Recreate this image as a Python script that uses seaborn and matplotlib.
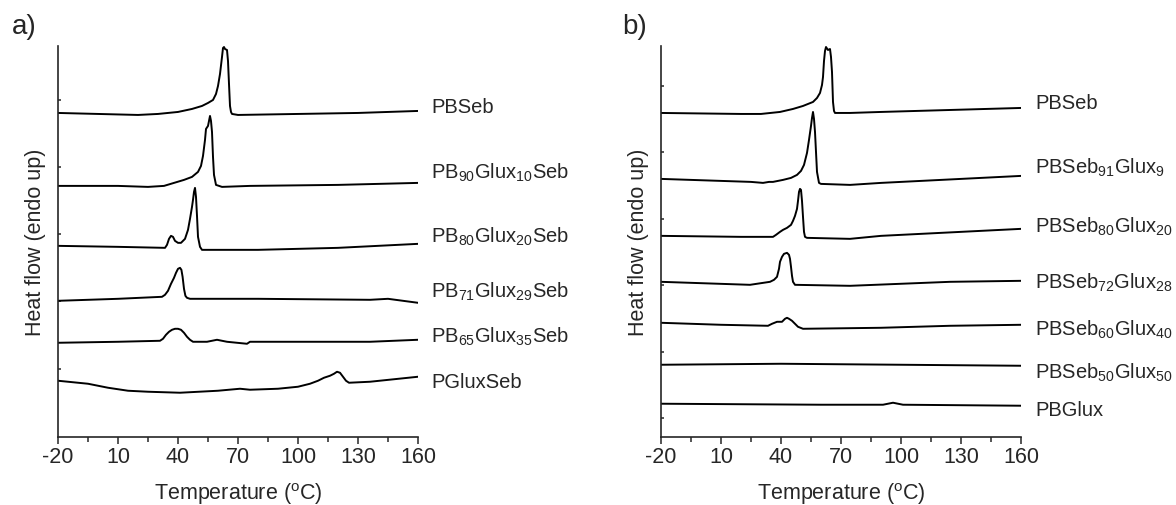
#!/usr/bin/env python3
"""
DSC heating scans of PBSeb copolyesters.
Panel a) PB(x)Glux(y)Seb series, panel b) PBSeb(x)Glux(y) series.
Heat flow values are arbitrary units (curves are stacked, endo up).
"""

import pandas as pd
import seaborn as sns
import matplotlib.pyplot as plt

# ---- panel a) data: temperature (C) and stacked heat flow (a.u.) ----
a_names = [
    'PBSeb',
    'PB$_{90}$Glux$_{10}$Seb',
    'PB$_{80}$Glux$_{20}$Seb',
    'PB$_{71}$Glux$_{29}$Seb',
    'PB$_{65}$Glux$_{35}$Seb',
    'PGluxSeb',
]
a1_t = [-20, 0, 20, 30, 40, 47, 52, 55, 57.5, 59, 60, 61, 62, 62.5, 63, 63.5, 64.5, 65, 65.5,
        66, 66.5, 67, 70, 100, 130, 160]
a1_hf = [324, 323, 322, 323, 325, 328, 331, 334, 337, 343, 351, 363, 380, 389, 390, 388, 387, 376, 353,
         331, 325, 323, 322, 323, 324, 326]
a2_t = [-20, 10, 25, 33, 38, 43, 47, 50, 51.5, 52.5, 53.5, 54, 55, 55.5, 56, 56.5, 57, 57.5, 58,
        59, 62, 76, 120, 160]
a2_hf = [251, 251, 250, 251, 254, 257, 260, 265, 271, 281, 297, 308, 311, 316, 321, 316, 305, 280, 262,
         252, 250, 251, 252, 254]
a3_t = [-20, 10, 33.5, 34.5, 35.5, 36.5, 37.5, 38.5, 40, 41.5, 43.5, 45, 46, 47, 47.5, 48, 48.5,
        49, 49.5, 50, 51, 52, 80, 120, 160]
a3_hf = [191, 190, 189, 192, 198, 201, 200, 196, 194, 194, 198, 207, 218, 230, 237, 245, 249,
         240, 221, 200, 190, 187, 187, 189, 193]
a4_t = [-20, 10, 32, 33.5, 35, 36.5, 38, 39, 40, 41, 41.7, 42.3, 43, 43.7, 44.5, 46, 80, 136,
        145, 160]
a4_hf = [136, 138, 140, 142, 146, 153, 159, 164, 168, 169, 167, 160, 148, 141, 139, 138, 138, 137,
         138, 134]
a5_t = [-20, 10, 31, 32.5, 34, 35.5, 37, 38.5, 40, 41.5, 43, 44.5, 46, 47.5, 54.5, 57, 59.5, 62,
        64.5, 74.5, 76, 136, 160]
a5_hf = [94, 95, 96, 98, 102, 105, 107, 108, 108, 107, 104, 100, 97, 95, 95, 96, 97, 96,
         95, 93, 95, 95, 97]
a6_t = [-20, -5, 5, 15, 25, 41, 60, 71, 76, 90, 100, 106, 110, 113, 116, 118, 119.5, 121, 122.5,
        124, 125.5, 136, 160]
a6_hf = [56, 53, 49, 46, 45, 44, 46, 48, 47, 48, 50, 53, 56, 59, 61, 63, 65, 64, 60,
         56, 54, 55, 60]
a_label_y = [325, 259, 195, 140, 95, 50]

# ---- panel b) data ----
b_names = [
    'PBSeb',
    'PBSeb$_{91}$Glux$_{9}$',
    'PBSeb$_{80}$Glux$_{20}$',
    'PBSeb$_{72}$Glux$_{28}$',
    'PBSeb$_{60}$Glux$_{40}$',
    'PBSeb$_{50}$Glux$_{50}$',
    'PBGlux',
]
b1_t = [-20, 20, 30, 39.5, 46, 51, 56, 58, 59.5, 60.5, 61, 61.5, 62, 62.5, 63.5, 64.5, 65,
        65.5, 66, 66.5, 67, 74.5, 90, 160]
b1_hf = [324, 323, 323, 325, 328, 331, 335, 339, 344, 352, 360, 376, 386, 390, 387, 388, 380,
         365, 335, 326, 324, 324, 325, 329]
b2_t = [-20, 10, 25, 31, 34, 36, 41, 45, 48, 50, 51.5, 53, 54, 55, 55.5, 56, 56.5, 57, 57.5, 58,
        59, 60, 74.5, 90, 160]
b2_hf = [258, 256, 255, 254, 255, 255, 257, 259, 262, 266, 272, 284, 297, 311, 319, 325, 318, 305,
         285, 265, 254, 253, 252, 254, 261]
b3_t = [-20, 20, 36, 37.5, 39.5, 41, 43, 45, 46, 47, 48, 48.5, 49, 49.5, 50, 50.5, 51, 51.5, 52,
        53, 74.5, 90, 160]
b3_hf = [201, 200, 200, 202, 205, 207, 209, 212, 216, 221, 228, 236, 245, 248, 247, 236, 220, 205,
         200, 199, 198, 201, 208]
b4_t = [-20, 24.5, 34.5, 36.5, 38, 39, 39.5, 40.5, 41.5, 43, 44, 44.5, 45, 45.5, 46, 47, 74.5,
        124.5, 160]
b4_hf = [155, 152, 155, 157, 160, 168, 175, 180, 183, 184, 182, 178, 170, 161, 155, 152, 151,
         155, 156]
b5_t = [-20, 10, 33.5, 35.5, 38, 40.5, 42, 43, 44, 45.5, 47, 48.5, 51, 90, 124.5, 160]
b5_hf = [114, 112, 111, 113, 115, 115, 118, 119, 118, 116, 113, 110, 108, 109, 111, 112]
b6_t = [-20, 40, 100, 160]
b6_hf = [72, 73, 72, 71]
b7_t = [-20, 60, 91, 96, 101, 160]
b7_hf = [33, 32, 32, 34, 32, 31]
b_label_y = [329, 264, 205, 149, 102, 59, 22]

a_yticks = [68, 136, 203, 270, 337]
b_yticks = [19, 85, 152, 218, 285, 351]
x_major = [-20, 10, 40, 70, 100, 130, 160]
x_minor = [-5, 25, 55, 85, 115, 145]


def make_frame(names, ts, hfs):
    """Stack the curves into one long frame for seaborn."""
    parts = []
    for name, t, hf in zip(names, ts, hfs):
        parts.append(pd.DataFrame({'sample': name, 'temperature': t, 'heat_flow': hf}))
    return pd.concat(parts, ignore_index=True)


def draw_panel(ax, df, names, label_y, yticks, label_x):
    sns.lineplot(data=df, x='temperature', y='heat_flow', units='sample',
                 estimator=None, sort=False, color='black', linewidth=1.4, ax=ax)
    for name, y in zip(names, label_y):
        ax.text(label_x, y, name, fontsize=14.5, va='baseline', ha='left', clip_on=False)

    ax.set_xlim(-20, 160)
    ax.set_ylim(0, 391)
    ax.set_xticks(x_major)
    ax.set_xticks(x_minor, minor=True)
    ax.set_xticklabels([str(v) for v in x_major])
    ax.set_yticks(yticks)
    ax.set_yticklabels([])
    ax.tick_params(axis='x', which='major', direction='out', length=5, width=1.1,
                   labelsize=15.5, pad=2)
    ax.tick_params(axis='x', which='minor', direction='out', length=3.5, width=1.1)
    ax.tick_params(axis='y', which='major', direction='in', length=2.5, width=1.1)
    for side in ['top', 'right']:
        ax.spines[side].set_visible(False)
    for side in ['left', 'bottom']:
        ax.spines[side].set_linewidth(1.2)
    ax.set_xlabel('Temperature ($^{o}$C)', fontsize=15.5, labelpad=9)
    ax.set_ylabel('Heat flow (endo up)', fontsize=15.5, labelpad=5)


sns.set_theme(style='ticks')
plt.rcParams['font.family'] = ['Liberation Sans', 'DejaVu Sans']
plt.rcParams['mathtext.fontset'] = 'custom'
plt.rcParams['mathtext.rm'] = 'Liberation Sans'
plt.rcParams['mathtext.it'] = 'Liberation Sans:italic'
plt.rcParams['mathtext.default'] = 'regular'

fig = plt.figure(figsize=(11.76, 5.06), dpi=100)
ax_a = fig.add_axes([58 / 1176, 68.3 / 506, 360 / 1176, 390.7 / 506])
ax_b = fig.add_axes([661 / 1176, 68.3 / 506, 360 / 1176, 390.7 / 506])

df_a = make_frame(a_names,
                  [a1_t, a2_t, a3_t, a4_t, a5_t, a6_t],
                  [a1_hf, a2_hf, a3_hf, a4_hf, a5_hf, a6_hf])
df_b = make_frame(b_names,
                  [b1_t, b2_t, b3_t, b4_t, b5_t, b6_t, b7_t],
                  [b1_hf, b2_hf, b3_hf, b4_hf, b5_hf, b6_hf, b7_hf])

draw_panel(ax_a, df_a, a_names, a_label_y, a_yticks, 166.5)
draw_panel(ax_b, df_b, b_names, b_label_y, b_yticks, 167)

fig.text(12 / 1176, 1 - 27 / 506, 'a)', fontsize=20, va='center', ha='left')
fig.text(622 / 1176, 1 - 27 / 506, 'b)', fontsize=20, va='center', ha='left')

fig.savefig('out.png', dpi=100)
